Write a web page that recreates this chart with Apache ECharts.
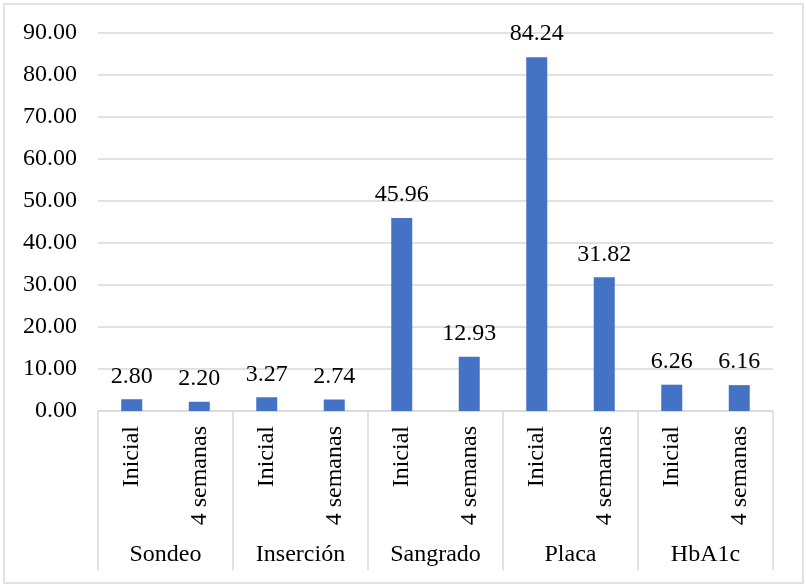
<!DOCTYPE html>
<html>
<head>
<meta charset="utf-8">
<script src="https://cdn.jsdelivr.net/npm/echarts@6/dist/echarts.min.js"></script>
<style>
  html, body { margin: 0; padding: 0; background: #fff; }
  #chart { width: 806px; height: 586px; }
</style>
</head>
<body>
<div id="chart"></div>
<script>
// Periodontal indices and HbA1c, baseline vs. 4 weeks
const timepoints = ['Inicial', '4 semanas'];
const groups = ['Sondeo', 'Inserción', 'Sangrado', 'Placa', 'HbA1c'];
const values = [2.80, 2.20, 3.27, 2.74, 45.96, 12.93, 84.24, 31.82, 6.26, 6.16];
const yTicks = { min: 0, max: 90, interval: 10 };

const innerCats = [];
groups.forEach(() => timepoints.forEach(t => innerCats.push(t)));

const font = '"Liberation Serif", "Times New Roman", serif';
const fontSize = 24;
const gridColor = '#d9d9d9';

const chart = echarts.init(document.getElementById('chart'), null, { renderer: 'canvas' });
chart.setOption({
  backgroundColor: '#fff',
  animation: false,
  textStyle: { fontFamily: font },
  graphic: [{
    type: 'rect',
    shape: { x: 4, y: 4, width: 799, height: 579 },
    style: { fill: 'none', stroke: gridColor, lineWidth: 1.5 },
    silent: true
  }],
  grid: { left: 98, right: 33, top: 33, bottom: 175, containLabel: false },
  xAxis: [{
    type: 'category',
    data: innerCats,
    position: 'bottom',
    axisLine: { show: true, lineStyle: { color: gridColor, width: 1.5 } },
    axisTick: { show: false },
    axisLabel: {
      rotate: 90, interval: 0, margin: 15,
      fontFamily: font, fontSize: fontSize, color: '#000'
    }
  }, {
    type: 'category',
    data: groups,
    position: 'bottom',
    boundaryGap: true,
    axisLine: { show: false },
    axisTick: { show: true, length: 159, interval: 0, lineStyle: { color: gridColor, width: 1.5 } },
    axisLabel: {
      interval: 0, margin: 132,
      fontFamily: font, fontSize: fontSize, color: '#000'
    }
  }],
  yAxis: {
    type: 'value',
    min: yTicks.min, max: yTicks.max, interval: yTicks.interval,
    axisLine: { show: false },
    axisTick: { show: false },
    splitLine: { lineStyle: { color: gridColor, width: 1.5 } },
    axisLabel: {
      margin: 21, fontFamily: font, fontSize: fontSize, color: '#000',
      formatter: v => v.toFixed(2)
    }
  },
  series: [{
    type: 'bar',
    xAxisIndex: 0,
    data: values,
    barWidth: 21,
    itemStyle: { color: '#4472C4' },
    label: {
      show: true, position: 'top', distance: 11,
      fontFamily: font, fontSize: fontSize, color: '#000',
      formatter: p => p.value.toFixed(2)
    }
  }]
});
</script>
</body>
</html>
